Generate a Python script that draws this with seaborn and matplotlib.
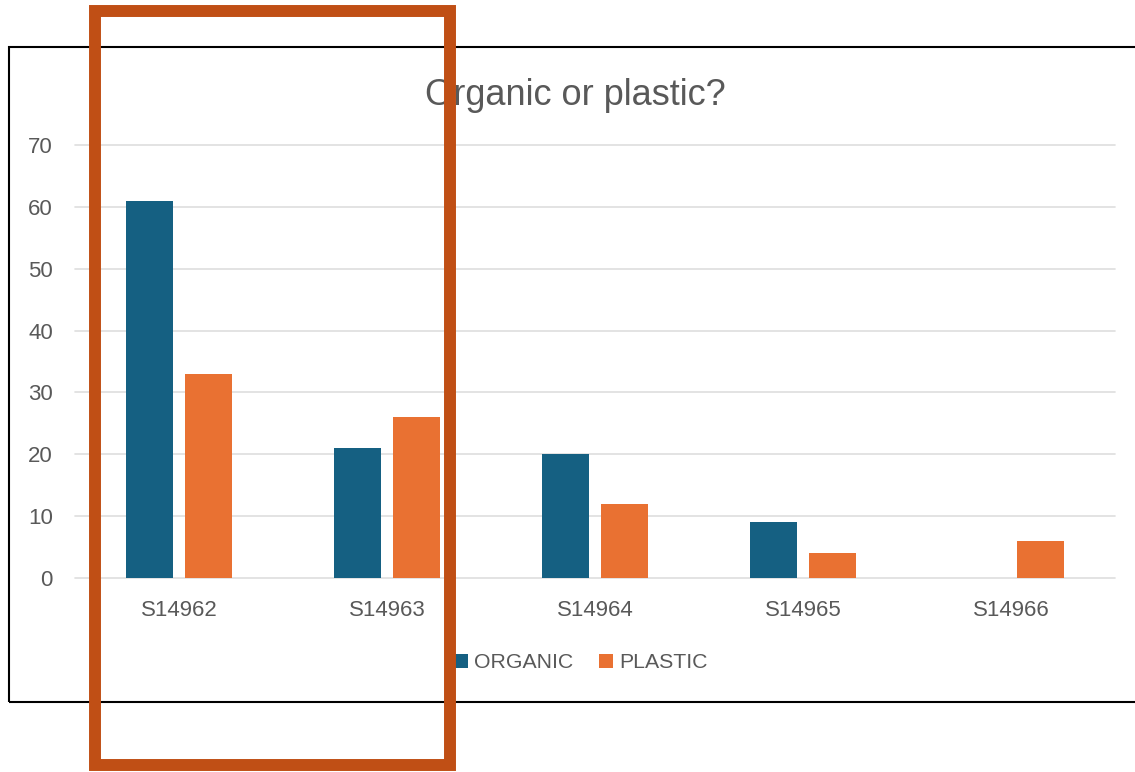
import matplotlib
matplotlib.use("Agg")
import matplotlib.pyplot as plt
from matplotlib.patches import Rectangle
import seaborn as sns
import pandas as pd

# Chart data
samples = ["S14962", "S14963", "S14964", "S14965", "S14966"]
organic = [61, 21, 20, 9, 0]
plastic = [33, 26, 12, 4, 6]
series_names = ["ORGANIC", "PLASTIC"]
y_ticks = [0, 10, 20, 30, 40, 50, 60, 70]

colors = ["#156082", "#E97132"]
text_color = "#595959"
grid_color = "#DEDEDE"

df = pd.DataFrame({
    "sample": samples * 2,
    "count": organic + plastic,
    "type": [series_names[0]] * len(samples) + [series_names[1]] * len(samples),
})

sns.set_theme(style="white")
plt.rcParams["font.family"] = ["Liberation Sans", "DejaVu Sans"]

W, H = 1135, 772
fig = plt.figure(figsize=(W / 100, H / 100), dpi=100)
fig.patch.set_facecolor("white")

# Plot area in pixel terms
px_left, px_right = 75, 1115
px_top, px_bottom = 145, 578
ax = fig.add_axes([px_left / W, (H - px_bottom) / H,
                   (px_right - px_left) / W, (px_bottom - px_top) / H])

sns.barplot(data=df, x="sample", y="count", hue="type", order=samples,
            hue_order=series_names, palette=colors, width=0.57, gap=0.2,
            linewidth=0, edgecolor="none", saturation=1, ax=ax)

ax.set_xlim(-0.5, len(samples) - 0.5)
ax.set_ylim(0, 70)
ax.set_yticks(y_ticks)
ax.set_xlabel("")
ax.set_ylabel("")
for s in ax.spines.values():
    s.set_visible(False)
ax.set_facecolor("none")
ax.set_axisbelow(True)
ax.yaxis.grid(True, color=grid_color, linewidth=1.2)
ax.xaxis.grid(False)
for gl in ax.get_ygridlines():
    gl.set_clip_on(False)
ax.tick_params(axis="y", length=0, pad=16, labelsize=16, labelcolor=text_color)
ax.tick_params(axis="x", length=0, pad=16, labelsize=16, labelcolor=text_color)

leg = ax.get_legend()
if leg is not None:
    leg.remove()
handles, labels = ax.get_legend_handles_labels()
fig.legend(handles, labels, loc="center", bbox_to_anchor=(581 / W, (H - 663) / H),
           ncol=2, frameon=False, fontsize=15.3, handlelength=0.65, handleheight=0.65,
           handletextpad=0.3, columnspacing=1.2, labelcolor=text_color)

fig.text(575 / W, (H - 105) / H, "Organic or plastic?", ha="center", va="baseline",
         fontsize=26, color=text_color)

# Chart frame
fig.patches.append(Rectangle((9 / W, (H - 702) / H), 1.2, (702 - 47) / H,
                             transform=fig.transFigure, fill=False,
                             edgecolor="black", linewidth=1.5, clip_on=False))

# Highlight box around the first two samples
fig.patches.append(Rectangle((95 / W, (H - 765) / H), (450 - 95) / W, (765 - 11) / H,
                             transform=fig.transFigure, fill=False,
                             edgecolor="#C04F15", linewidth=8.6, joinstyle="miter",
                             zorder=10))

fig.savefig("out.png", dpi=100)
